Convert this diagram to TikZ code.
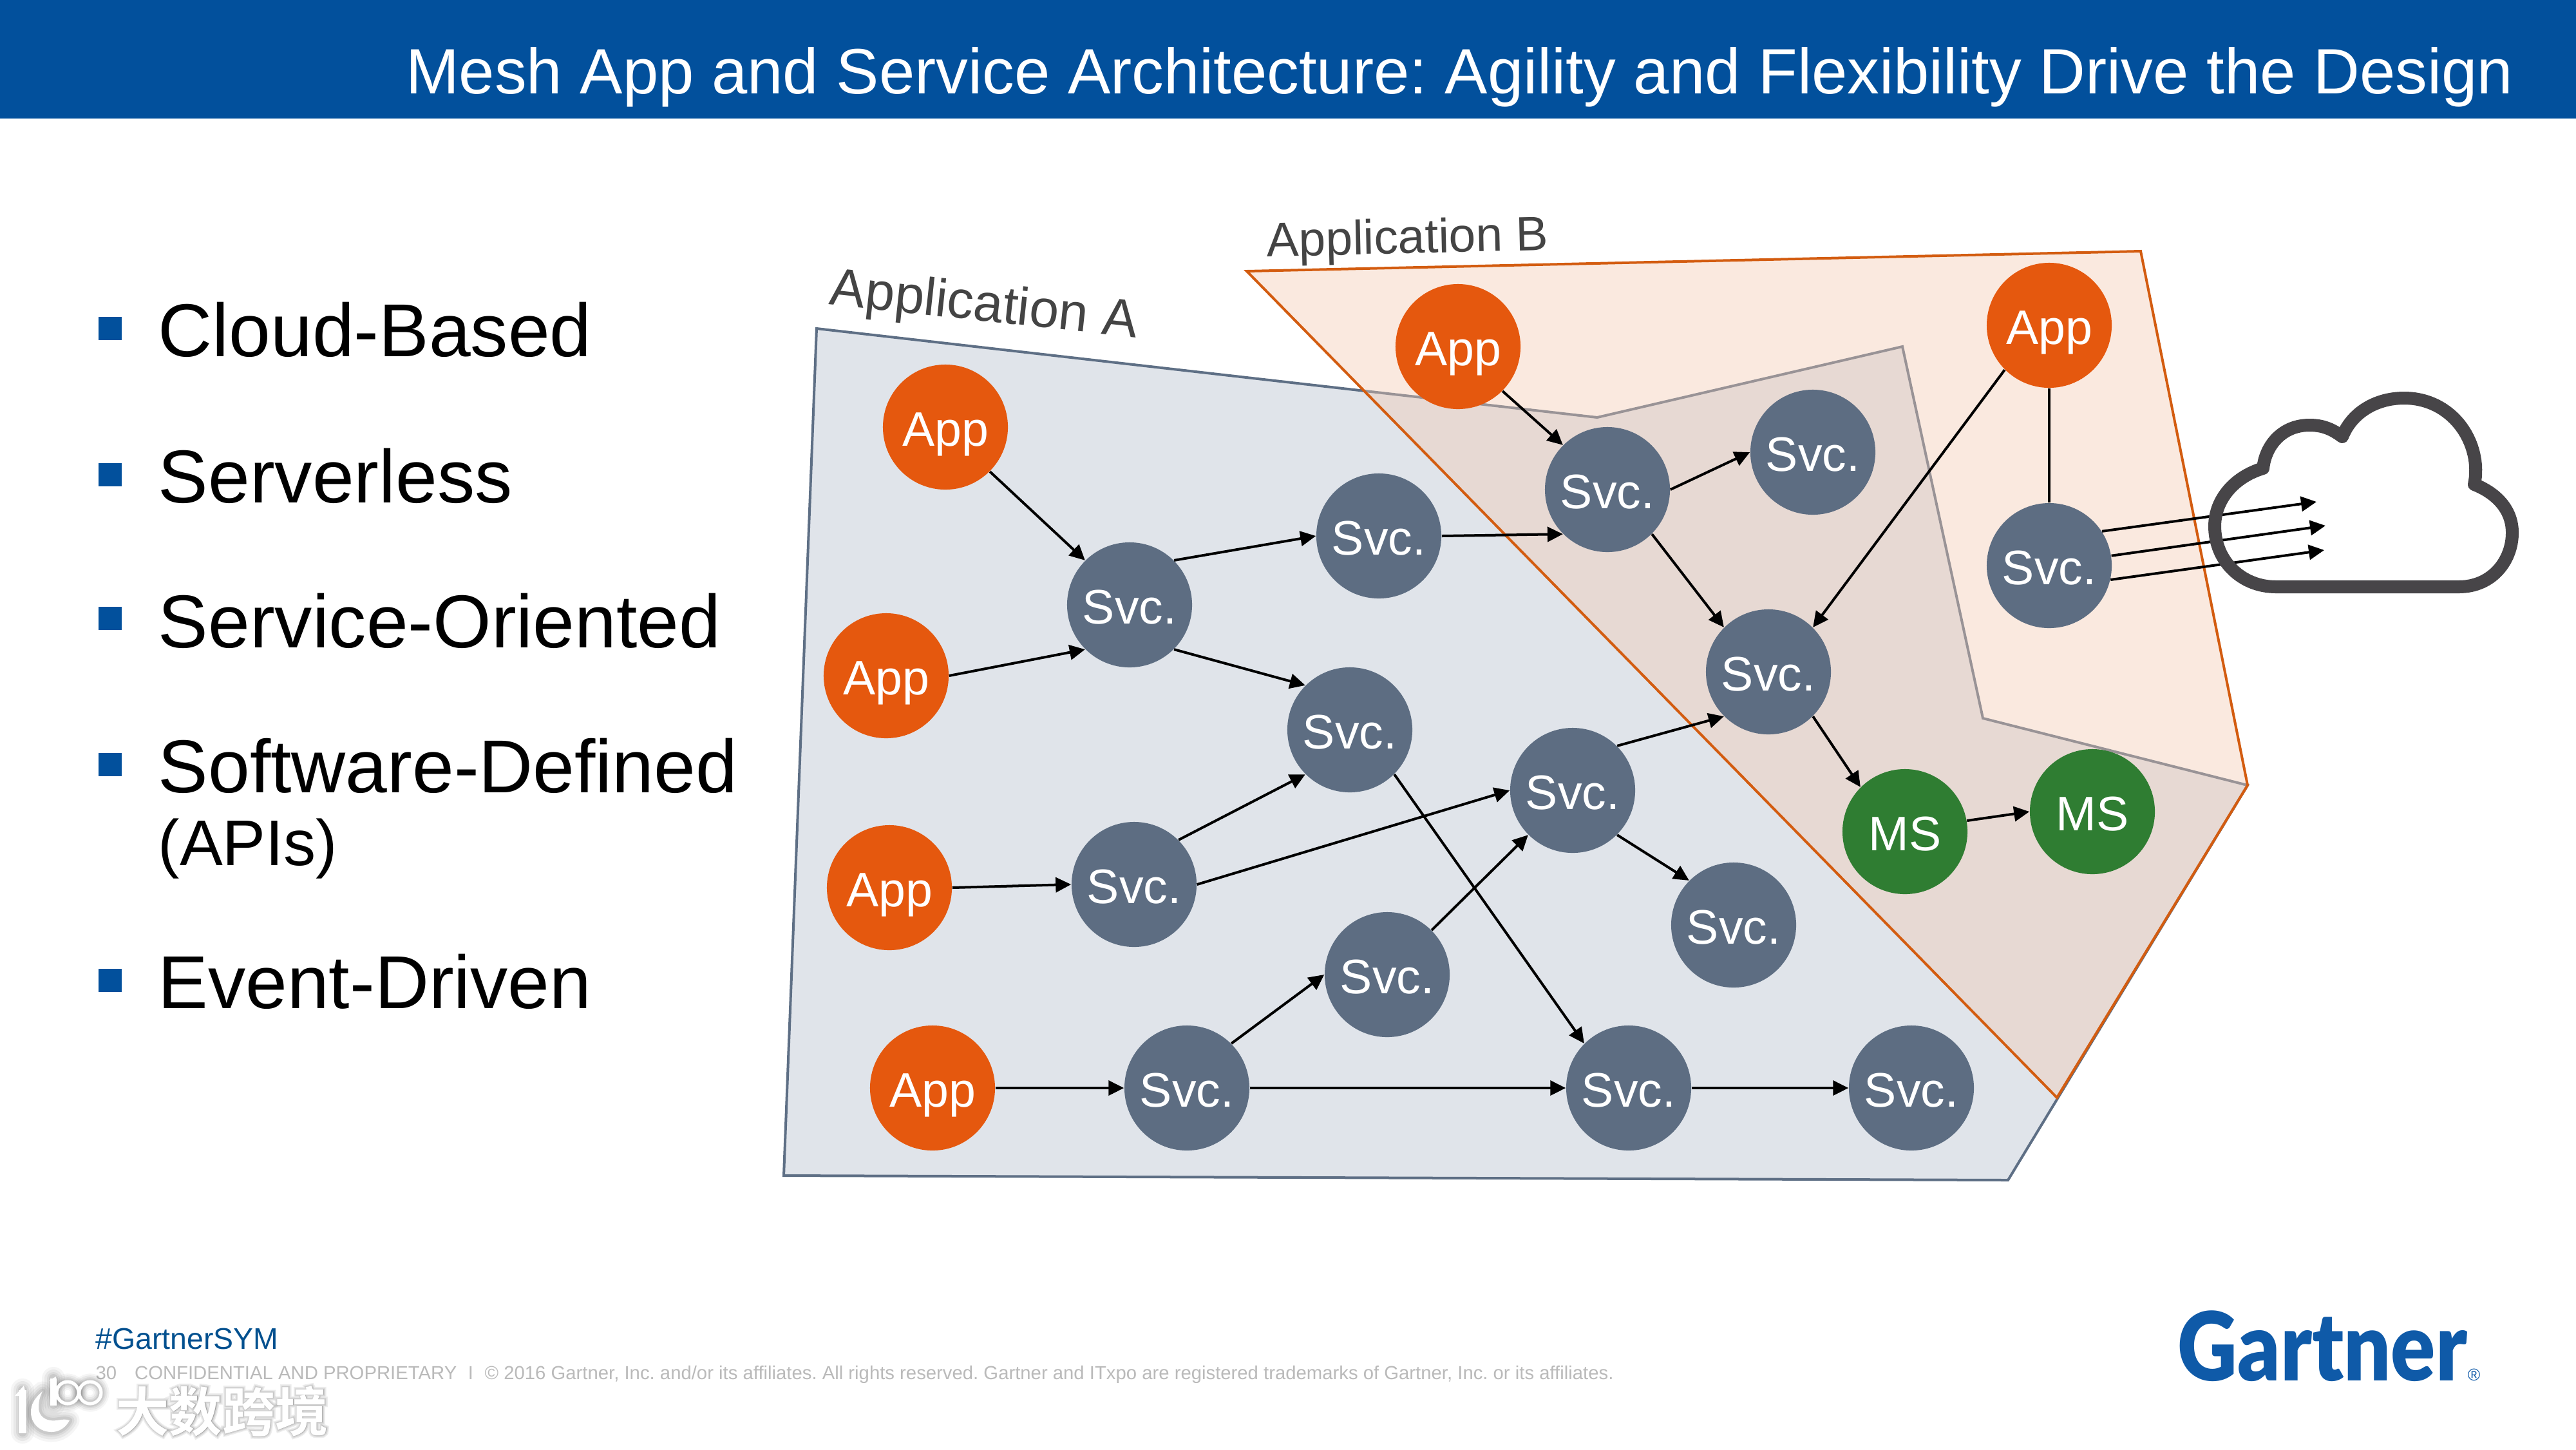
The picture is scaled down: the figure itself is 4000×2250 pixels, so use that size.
\documentclass[tikz,border=0pt]{standalone}
\usepackage{fontspec}
\setmainfont{Liberation Sans}
\newfontfamily\cjk{Noto Sans CJK SC Bold}
\newfontfamily\cjkhaloa[FakeBold=3]{Noto Sans CJK SC Bold}
\newfontfamily\cjkhalob[FakeBold=6]{Noto Sans CJK SC Bold}
\newfontfamily\cjkhaloc[FakeBold=10]{Noto Sans CJK SC Bold}
\newfontfamily\logofont{Lato Black}
\usetikzlibrary{arrows.meta}
\definecolor{bannerblue}{HTML}{02509C}
\definecolor{hashblue}{HTML}{02508F}
\definecolor{logoblue}{HTML}{0F5AA8}
\definecolor{apporange}{HTML}{E5580E}
\definecolor{svcslate}{HTML}{5D6D82}
\definecolor{msgreen}{HTML}{2F7D32}
\definecolor{afill}{HTML}{E0E4EA}
\definecolor{aedge}{HTML}{5E6F85}
\definecolor{bfill}{RGB}{243,202,177}
\definecolor{bedge}{HTML}{D35C10}
\definecolor{cloudgrey}{HTML}{474548}
\definecolor{labelgrey}{HTML}{444444}
\tikzset{
  x=0.01cm,y=-0.01cm,
  circ/.style={circle,draw=none,minimum size=1.94cm,inner sep=0pt,text=white,text height=0.58cm,text depth=0pt,font=\fontsize{21.4}{21.4}\selectfont},
  appn/.style={circ,fill=apporange},
  svcn/.style={circ,fill=svcslate},
  msn/.style={circ,fill=msgreen},
  conn/.style={line width=0.04cm,-{Triangle[length=0.24cm,width=0.23cm]}},
  plainconn/.style={line width=0.04cm},
  bullet/.style={fill=bannerblue,minimum size=0.36cm,inner sep=0pt},
  bullettext/.style={anchor=base west,inner sep=0pt,font=\fontsize{33.1}{33.1}\selectfont,text=black},
  wmhalotext/.style={anchor=base west,inner sep=0pt,text=black,opacity=0.07},
}
\def\wmcrescent{(66,2160) .. controls (54,2170) and (48,2180) .. (48,2192) .. controls (48,2210) and (62,2223) .. (80,2223) .. controls (92,2223) and (102,2216) .. (108,2205) .. controls (98,2201) and (88,2207) .. (78,2205) .. controls (66,2203) and (60,2195) .. (60,2185) .. controls (60,2175) and (62,2168) .. (66,2160) -- cycle}
\begin{document}
\frenchspacing
\begin{tikzpicture}
\useasboundingbox (0,0) rectangle (4000,2250);
\fill[white] (0,0) rectangle (4000,2250);
% banner
\fill[bannerblue] (0,0) rectangle (4000,184);
\node[anchor=base east,inner sep=0pt,text=white,font=\fontsize{28.28}{28.28}\selectfont] (title) at (3903,145) {Mesh App and Service Architecture: Agility and Flexibility Drive the Design};
% bullets
\node[bullet] (b1) at (171,510) {};
\node[bullet] (b2) at (171,737) {};
\node[bullet] (b3) at (171,960) {};
\node[bullet] (b4) at (171,1187) {};
\node[bullet] (b5) at (171,1522) {};
\node[bullettext] (t1) at (245,553) {Cloud-Based};
\node[bullettext] (t2) at (245,780) {Serverless};
\node[bullettext] (t3) at (245,1005) {Service-Oriented};
\node[bullettext] (t4) at (245,1230) {Software-Defined};
\node[bullettext,font=\fontsize{28.5}{28.5}\selectfont] (t4b) at (245,1343) {(APIs)};
\node[bullettext] (t5) at (245,1565) {Event-Driven};
% regions
\draw[fill=afill,draw=aedge,line width=0.04cm,line join=miter]
  (1268,510) -- (2480,648) -- (2954,538) -- (3079,1115) -- (3490,1219) -- (3118,1832) -- (1217,1825) -- cycle;
\draw[bedge,line width=0.04cm,fill=bfill,fill opacity=0.4]
  (1936,421) -- (3324,390) -- (3490,1219) -- (3194,1704) -- cycle;
% labels
\node[inner sep=0pt,text=labelgrey,rotate=-6.2,font=\fontsize{23.4}{23.4}\selectfont] (la) at (1528,477) {Application A};
\node[inner sep=0pt,text=labelgrey,rotate=1.3,font=\fontsize{21.3}{21.3}\selectfont] (lb) at (2186,374) {Application B};
% nodes
\begin{scope}[shift={(1,0)}]
\node[appn] (app1) at (1467,663) {App};
\node[appn] (app2) at (1375,1049) {App};
\node[appn] (app3) at (1380,1378) {App};
\node[appn] (app4) at (1447,1689) {App};
\node[svcn] (a) at (1753,939) {Svc.};
\node[svcn] (b) at (2140,832) {Svc.};
\node[svcn] (c) at (2095,1133) {Svc.};
\node[svcn] (d) at (1760,1373) {Svc.};
\node[svcn] (e) at (2441,1227) {Svc.};
\node[svcn] (f) at (2153,1513) {Svc.};
\node[svcn] (g) at (1842,1689) {Svc.};
\node[svcn] (h) at (2528,1689) {Svc.};
\node[svcn] (i) at (2967,1689) {Svc.};
\node[svcn] (j) at (2691,1436) {Svc.};
\node[appn] (app5) at (2263,538) {App};
\node[appn] (app6) at (3181,505) {App};
\node[svcn] (k) at (2495,760) {Svc.};
\node[svcn] (l) at (2814,702) {Svc.};
\node[svcn] (m) at (2745,1043) {Svc.};
\node[svcn] (n) at (3181,878) {Svc.};
\node[msn] (ms1) at (2957,1291) {MS};
\node[msn] (ms2) at (3248,1260) {MS};
\end{scope}
% connectors
\draw[conn] (app1.-45) -- (a.135);
\draw[conn] (app2.0) -- (a.225);
\draw[conn] (app3.0) -- (d.180);
\draw[conn] (app4.0) -- (g.180);
\draw[conn] (a.45) -- (b.180);
\draw[conn] (a.-45) -- (c.135);
\draw[conn] (b.0) -- (k.225);
\draw[conn] (c.-45) -- (h.135);
\draw[conn] (d.45) -- (c.225);
\draw[conn] (d.0) -- (e.180);
\draw[conn] (e.45) -- (m.225);
\draw[conn] (e.-45) -- (j.135);
\draw[conn] (f.45) -- (e.225);
\draw[conn] (g.45) -- (f.180);
\draw[conn] (g.0) -- (h.180);
\draw[conn] (h.0) -- (i.180);
\draw[conn] (app5.-45) -- (k.135);
\draw[conn] (k.0) -- (l.180);
\draw[conn] (k.-45) -- (m.135);
\draw[conn] (app6.-135) -- (m.45);
\draw[plainconn] (app6.-90) -- (n.90);
\draw[conn] (m.-45) -- (ms1.135);
\draw[conn] (ms1.10) -- (ms2.180);
% cloud arrows
\coordinate (t1c) at (3597,779);
\coordinate (t2c) at (3611,816);
\coordinate (t3c) at (3609,854);
\draw[conn] (n.33) -- (t1c);
\draw[conn] (n.9.4) -- (t2c);
\draw[conn] (n.-13.5) -- (t3c);
% cloud
\draw[cloudgrey,line width=0.2cm,line join=round]
  (3534,911) -- (3818,911) .. controls (3870,911) and (3901,870) .. (3901,827)
  .. controls (3901,790) and (3875,765) .. (3842,752)
  .. controls (3855,690) and (3810,618) .. (3733,618)
  .. controls (3690,618) and (3652,640) .. (3637,678)
  .. controls (3620,665) and (3605,660) .. (3586,660)
  .. controls (3545,660) and (3518,690) .. (3514,727)
  .. controls (3470,740) and (3439,775) .. (3439,817)
  .. controls (3439,870) and (3480,911) .. (3534,911) -- cycle;
% footer
\node[anchor=base west,inner sep=0pt,text=hashblue,font=\fontsize{13.2}{13.2}\selectfont] (tag) at (148,2094) {\#GartnerSYM};
\node[anchor=base west,inner sep=0pt,text=black!27,font=\fontsize{8.33}{8.33}\selectfont] (copy) at (148,2141) {30\hspace{0.95em}CONFIDENTIAL AND PROPRIETARY\hspace{0.6em}I\hspace{0.6em}© 2016 Gartner, Inc. and/or its affiliates. All rights reserved. Gartner and ITxpo are registered trademarks of Gartner, Inc. or its affiliates.};
\node[anchor=base west,inner sep=0pt,text=logoblue,font=\logofont\fontsize{42}{42}\selectfont] (logo) at (3381,2143) {\scalebox{0.87}[1]{Gartner}};
\node[anchor=base west,inner sep=0pt,text=logoblue,font=\fontsize{7.5}{7.5}\selectfont] (reg) at (3831,2143) {®};
% watermark: logo strokes, halo then white
\foreach \lw/\op in {0.36/0.04,0.28/0.05,0.20/0.06,0.14/0.07}{
  \draw[black,opacity=\op,line width=\lw cm,line cap=round] (35,2223) -- (35,2158);
  \draw[black,opacity=\op,line width=\lw cm-0.05cm,line join=round] \wmcrescent;
  \draw[black,opacity=\op,line width=\lw cm,line cap=round] (83,2180) -- (83,2140);
  \draw[black,opacity=\op,line width=0.7*\lw cm] (105,2162) circle[radius=17];
  \draw[black,opacity=\op,line width=0.7*\lw cm] (140,2162) circle[radius=17];
}
\draw[white,line width=0.12cm] (35,2225) -- (35,2158);
\fill[white] (23,2167) -- (37,2151) -- (41,2167) -- cycle;
\fill[white] \wmcrescent;
\draw[white,line width=0.09cm] (83,2182) -- (83,2140);
\fill[white] (76,2143) -- (87,2137) -- (87,2143) -- cycle;
\draw[white,line width=0.05cm] (105,2162) circle[radius=17];
\draw[white,line width=0.05cm] (140,2162) circle[radius=17];
% watermark: text, halo then white
\node[wmhalotext,font=\cjkhaloc\fontsize{23.4}{23.4}\selectfont] (wmc) at (180,2222) {大数跨境};
\node[wmhalotext,font=\cjkhalob\fontsize{23.4}{23.4}\selectfont] (wmb) at (180,2222) {大数跨境};
\node[wmhalotext,font=\cjkhaloa\fontsize{23.4}{23.4}\selectfont] (wma) at (180,2222) {大数跨境};
\node[anchor=base west,inner sep=0pt,text=white,font=\cjk\fontsize{23.4}{23.4}\selectfont] (wm) at (180,2222) {大数跨境};
\end{tikzpicture}
\end{document}
